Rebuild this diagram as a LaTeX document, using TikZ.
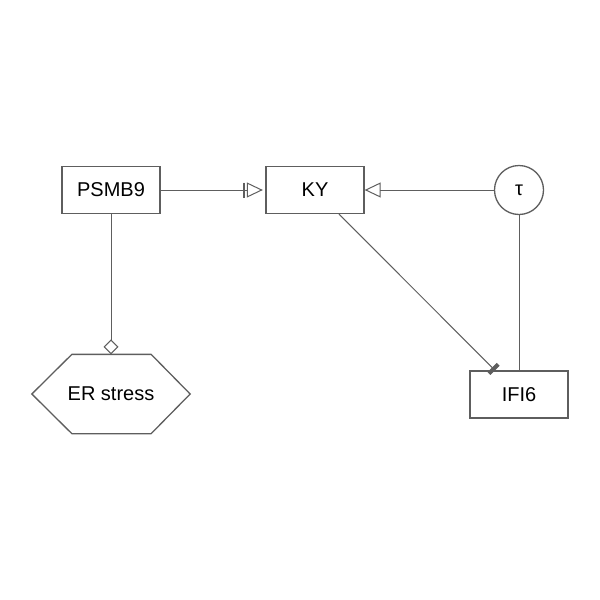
\documentclass[tikz,border=0pt]{standalone}
\usepackage{fontspec}
\setmainfont{Liberation Sans}
\usetikzlibrary{arrows.meta}
\definecolor{edge}{HTML}{5E5E5E}
\tikzset{
	box/.style={draw=edge, line width=1.3pt, minimum width=98pt, minimum height=47pt, inner sep=0pt, font=\fontsize{20}{24}\selectfont},
	link/.style={draw=edge, line width=1pt},
}
\begin{document}
\begin{tikzpicture}[x=1pt, y=-1pt]
		\useasboundingbox (0,0) rectangle (600,600);
		\node[box] (psmb) at (111,190) {PSMB9};
		\node[box] (ky) at (315,190) {KY};
		\node[box, circle, minimum size=49pt] (tau) at (519,190) {τ};
		\node[box] (ifi) at (519,394.5) {IFI6};
		\node[box, draw=none, minimum width=157pt, minimum height=78pt] (er) at (111,394) {ER stress};
		\draw[edge, line width=1.3pt] (er.west) -- ([xshift=40pt]er.north west) -- ([xshift=-39pt]er.north east) -- (er.east) -- ([xshift=-39pt]er.south east) -- ([xshift=40pt]er.south west) -- cycle;

		\draw[link, -{Bar[width=15pt,line width=1pt] Bar[width=15pt,line width=1pt,sep=2pt] Triangle[open,length=16pt,width=15pt,line width=1pt,sep=2.5pt]}] (psmb) -- (ky);
		\draw[link, -{Triangle[open,length=16pt,width=15pt,line width=1pt]}] (tau) -- (ky);
		\draw[link, -{Diamond[open,length=15pt,width=15pt,line width=1pt]}] (psmb) -- (er);
		\draw[link, -{Rectangle[length=4pt,width=13pt]}] (ky) -- (ifi);
		\draw[link] (tau) -- (ifi);
	\end{tikzpicture}
\end{document}
